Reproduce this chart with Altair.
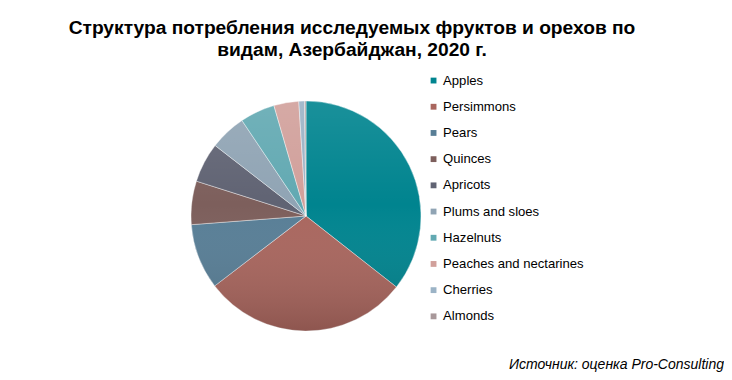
import altair as alt
import pandas as pd

categories = ["Apples", "Persimmons", "Pears", "Quinces", "Apricots",
              "Plums and sloes", "Hazelnuts", "Peaches and nectarines",
              "Cherries", "Almonds"]
shares = [35.6, 29.0, 9.2, 6.1, 5.6, 5.1, 4.9, 3.5, 0.8, 0.2]
colors = ["#00848F", "#A9665E", "#587E96", "#7D5F5C", "#606373",
          "#90A4B4", "#62A9B2", "#D1A09B", "#9BB3C6", "#A8989A"]

title_lines = ["Структура потребления исследуемых фруктов и орехов по",
               "видам, Азербайджан, 2020 г."]
source_text = "Источник: оценка Pro-Consulting"

df = pd.DataFrame({"cat": categories, "share": shares,
                   "ord": list(range(len(categories)))})

CX, CY, R = 298, 208, 115
FONT = "Liberation Sans"

pie = alt.Chart(df).mark_arc(radius=R, stroke="white", strokeWidth=0.4).encode(
    theta=alt.Theta("share:Q", stack=True),
    order=alt.Order("ord:Q"),
    color=alt.Color("cat:N",
                    scale=alt.Scale(domain=categories, range=colors),
                    sort=categories,
                    legend=alt.Legend(title=None, orient="none",
                                      legendX=419, legendY=66,
                                      symbolType="square", symbolSize=34,
                                      symbolStrokeWidth=0,
                                      labelFont=FONT, labelFontSize=13.1,
                                      labelColor="#000000", labelOffset=3,
                                      rowPadding=12.2, labelLimit=300)),
    x=alt.value(CX), y=alt.value(CY),
)

shade = alt.Chart(alt.Data(values=[{"k": 1}])).mark_arc(
    radius=R, theta=0, theta2=6.2832,
    fill=alt.Gradient(gradient="linear", x1=0, y1=0, x2=0, y2=1,
                      stops=[alt.GradientStop(color="rgba(255,255,255,0.10)", offset=0),
                             alt.GradientStop(color="rgba(255,255,255,0.0)", offset=0.45),
                             alt.GradientStop(color="rgba(0,0,0,0.16)", offset=1)]),
).encode(x=alt.value(CX), y=alt.value(CY))


def title_line(i, y):
    return alt.Chart(alt.Data(values=[{"t": title_lines[i]}])).mark_text(
        font=FONT, fontSize=19.2, fontWeight="bold", align="center",
        baseline="middle", color="#000000").encode(
        text="t:N", x=alt.value(344), y=alt.value(y))


src = alt.Chart(alt.Data(values=[{"s": source_text}])).mark_text(
    font=FONT, fontSize=14, fontStyle="italic", align="right",
    baseline="middle", color="#000000").encode(
    text="s:N", x=alt.value(716), y=alt.value(357))

chart = alt.layer(pie, shade, title_line(0, 20), title_line(1, 42), src).properties(
    width=716, height=364, padding=0, autosize="none",
    background="white"
).configure_view(stroke=None)

chart.save("out.html", embed_options={"renderer": "svg", "actions": False})
